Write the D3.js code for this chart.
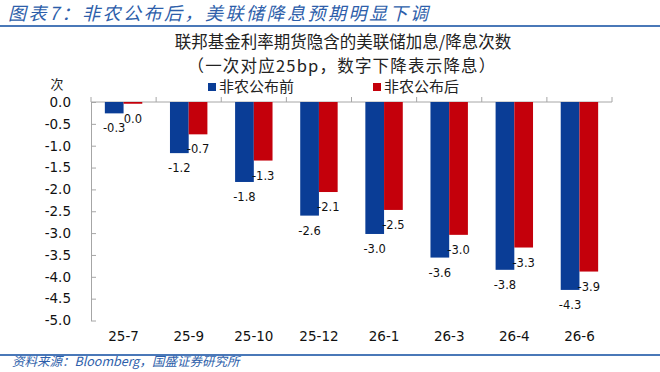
<!DOCTYPE html>
<html>
<head>
<meta charset="utf-8">
<script src="https://cdn.jsdelivr.net/npm/d3@7"></script>
<style>
  body { margin: 0; background: #fff; }
  svg { display: block; }
</style>
</head>
<body>
<div id="chart"></div>
<script>
  // data
  var categories = ["25-7", "25-9", "25-10", "25-12", "26-1", "26-3", "26-4", "26-6"];
  var seriesNames = ["非农公布前", "非农公布后"];
  var before = [-0.26, -1.17, -1.83, -2.60, -3.02, -3.56, -3.84, -4.30];
  var after = [-0.04, -0.74, -1.34, -2.06, -2.47, -3.04, -3.33, -3.88];
  var yTicks = [0, -0.5, -1, -1.5, -2, -2.5, -3, -3.5, -4, -4.5, -5];

  var colors = ["#0a3d96", "#c4000b"];
  var numFont = "'DejaVu Sans', Verdana, sans-serif";
  var cjkFont = "'Noto Sans CJK SC', sans-serif";

  var width = 660, height = 372;
  var plot = {left: 91, right: 612, top: 102, bottom: 320.5};

  var svg = d3.select("#chart")
    .append("svg")
    .attr("width", width)
    .attr("height", height);

  // header
  svg.append("text")
    .attr("x", 8)
    .attr("y", 19.5)
    .attr("fill", "#2d5eaa")
    .style("font-family", cjkFont)
    .style("font-size", "18px")
    .style("font-style", "italic")
    .style("letter-spacing", "2.5px")
    .text("图表7：非农公布后，美联储降息预期明显下调");

  svg.append("line")
    .attr("x1", 0).attr("x2", width)
    .attr("y1", 26).attr("y2", 26)
    .attr("stroke", "#4a78b8")
    .attr("stroke-width", 2);

  svg.append("line")
    .attr("x1", 0).attr("x2", width)
    .attr("y1", 355).attr("y2", 355)
    .attr("stroke", "#4a78b8")
    .attr("stroke-width", 2);

  svg.append("text")
    .attr("x", 12)
    .attr("y", 366)
    .attr("fill", "#2d5eaa")
    .style("font-family", cjkFont)
    .style("font-size", "12.5px")
    .style("font-style", "italic")
    .text("资料来源：Bloomberg，国盛证券研究所");

  // chart title
  var title = svg.append("g")
    .attr("text-anchor", "middle")
    .style("font-family", cjkFont)
    .style("font-size", "16.5px")
    .attr("fill", "#222");
  title.append("text").attr("x", 343).attr("y", 48)
    .text("联邦基金利率期货隐含的美联储加息/降息次数");
  title.append("text").attr("x", 342).attr("y", 72)
    .style("letter-spacing", "1.2px")
    .text("（一次对应25bp，数字下降表示降息）");

  // legend
  var legendX = [208, 373];
  var legend = svg.selectAll(".legend")
    .data(seriesNames)
    .enter().append("g")
    .attr("class", "legend")
    .attr("transform", function (d, i) {
      return "translate(" + legendX[i] + ",87)";
    });
  legend.append("rect")
    .attr("x", 0).attr("y", -4)
    .attr("width", 8).attr("height", 8)
    .attr("fill", function (d, i) { return colors[i]; });
  legend.append("text")
    .attr("x", 11)
    .attr("dy", "0.36em")
    .style("font-family", cjkFont)
    .style("font-size", "15px")
    .attr("fill", "#222")
    .text(function (d) { return d; });

  // unit
  svg.append("text")
    .attr("x", 57).attr("y", 84)
    .attr("text-anchor", "middle")
    .attr("dy", "0.35em")
    .style("font-family", cjkFont)
    .style("font-size", "13px")
    .attr("fill", "#222")
    .text("次");

  // scales
  var x = d3.scaleBand()
    .domain(categories)
    .range([plot.left, plot.right]);

  var x1 = d3.scaleBand()
    .domain(seriesNames)
    .range([0, x.bandwidth()])
    .paddingOuter(0.74);

  var y = d3.scaleLinear()
    .domain([-5, 0])
    .range([plot.bottom, plot.top]);

  // y axis
  var yAxis = d3.axisLeft(y)
    .tickValues(yTicks)
    .tickSizeInner(-5)
    .tickSizeOuter(0)
    .tickPadding(20)
    .tickFormat(d3.format(".1f"));

  var yg = svg.append("g")
    .attr("transform", "translate(" + plot.left + ",0)")
    .call(yAxis);
  yg.select(".domain").attr("stroke", "#a6a6a6");
  yg.selectAll(".tick line").attr("stroke", "#a6a6a6");
  yg.selectAll(".tick text")
    .attr("fill", "#111")
    .style("font-family", numFont)
    .style("font-size", "13.5px")
    .text(function (d) { return d3.format(".1f")(d).replace("−", "-"); });

  // x axis line at zero with upward ticks between categories
  svg.append("line")
    .attr("x1", plot.left).attr("x2", plot.right)
    .attr("y1", y(0)).attr("y2", y(0))
    .attr("stroke", "#a6a6a6");

  var bounds = categories.map(function (c) { return x(c); }).concat([plot.right]);
  svg.selectAll(".xtick")
    .data(bounds)
    .enter().append("line")
    .attr("class", "xtick")
    .attr("x1", function (d) { return d; })
    .attr("x2", function (d) { return d; })
    .attr("y1", y(0))
    .attr("y2", y(0) - 5)
    .attr("stroke", "#a6a6a6");

  var xAxis = d3.axisBottom(x).tickSize(0).tickPadding(0);
  var xg = svg.append("g")
    .attr("transform", "translate(0,331)")
    .call(xAxis);
  xg.select(".domain").remove();
  xg.selectAll(".tick text")
    .attr("fill", "#111")
    .style("font-family", numFont)
    .style("font-size", "13.5px");

  // bars
  var dataset = categories.map(function (c, i) {
    return [
      {cat: c, name: seriesNames[0], value: before[i]},
      {cat: c, name: seriesNames[1], value: after[i]}
    ];
  });

  var groups = svg.selectAll("g.cat")
    .data(dataset)
    .enter().append("g")
    .attr("class", "cat")
    .attr("transform", function (d) {
      return "translate(" + x(d[0].cat) + ",0)";
    });

  groups.selectAll("rect")
    .data(function (d) { return d; })
    .enter().append("rect")
    .attr("x", function (d) { return x1(d.name); })
    .attr("y", y(0))
    .attr("width", x1.bandwidth())
    .attr("height", function (d) { return y(d.value) - y(0); })
    .attr("fill", function (d, i) { return colors[i]; });

  groups.selectAll("text.val")
    .data(function (d) { return d; })
    .enter().append("text")
    .attr("class", "val")
    .attr("x", function (d) { return x1(d.name) + x1.bandwidth() / 2; })
    .attr("y", function (d) { return y(d.value) + 15; })
    .attr("dy", "0.35em")
    .attr("text-anchor", "middle")
    .attr("fill", "#111")
    .style("font-family", numFont)
    .style("font-size", "11.5px")
    .text(function (d) { return d3.format(".1f")(d.value).replace("−", "-"); });
</script>
</body>
</html>
